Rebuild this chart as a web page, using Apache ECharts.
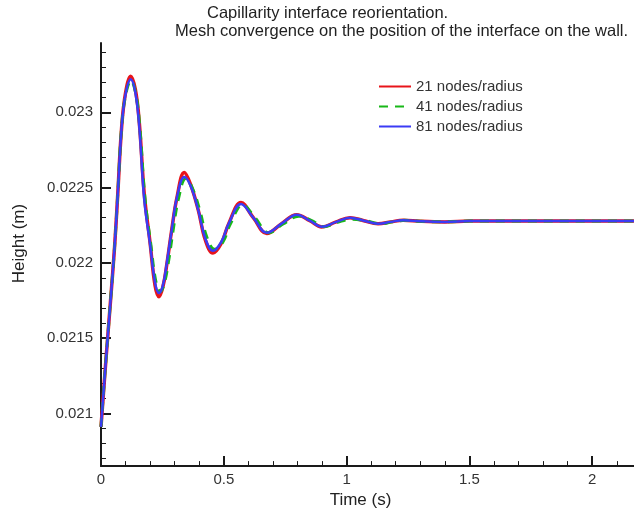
<!DOCTYPE html>
<html>
<head>
<meta charset="utf-8">
<script src="https://cdn.jsdelivr.net/npm/echarts@6/dist/echarts.min.js"></script>
<style>
html, body { margin: 0; padding: 0; background: #fff; }
#main { width: 634px; height: 514px; }
</style>
</head>
<body>
<div id="main"></div>
<script>
// time (s)
var tRef = [0, 0.02, 0.037, 0.055, 0.068, 0.084, 0.1, 0.121, 0.14, 0.156, 0.176, 0.2, 0.22, 0.236, 0.252, 0.268, 0.288, 0.31, 0.339, 0.365, 0.396, 0.425, 0.456, 0.49, 0.52, 0.57, 0.62, 0.675, 0.735, 0.797, 0.85, 0.899, 0.955, 1.014, 1.07, 1.128, 1.18, 1.23, 1.3, 1.4, 1.5, 1.7, 1.9, 2.17];
// 81 nodes/radius
var blue = [0.02091, 0.021354, 0.02171, 0.0221, 0.02245, 0.0229, 0.02312, 0.02322, 0.02313, 0.0229, 0.02242, 0.02212, 0.02187, 0.0218, 0.02185, 0.022, 0.02222, 0.02244, 0.02257, 0.02251, 0.02235, 0.02216, 0.02208, 0.02214, 0.02226, 0.02239, 0.0223, 0.0222, 0.02226, 0.02232, 0.02228, 0.02224, 0.02227, 0.0223, 0.02228, 0.02226, 0.022272, 0.022283, 0.022276, 0.022272, 0.022277, 0.022278, 0.022277, 0.022277];
// 21 nodes/radius
var red = [0.02091, 0.021354, 0.02171, 0.0221, 0.02245, 0.0229, 0.02313, 0.02324, 0.02315, 0.02293, 0.02246, 0.02213, 0.02185, 0.021775, 0.02184, 0.02199, 0.02222, 0.02244, 0.0226, 0.02252, 0.02235, 0.02215, 0.022065, 0.02213, 0.02226, 0.0224, 0.0223, 0.022195, 0.02226, 0.02232, 0.02228, 0.022238, 0.02227, 0.0223, 0.02228, 0.02226, 0.022272, 0.022283, 0.022276, 0.022272, 0.022277, 0.022278, 0.022277, 0.022277];
// 41 nodes/radius (a little behind after the first swing)
var tGreen = [0, 0.02, 0.037, 0.055, 0.068, 0.084, 0.101, 0.122, 0.142, 0.158, 0.179, 0.203, 0.224, 0.241, 0.257, 0.274, 0.294, 0.316, 0.345, 0.371, 0.402, 0.431, 0.462, 0.497, 0.527, 0.577, 0.627, 0.683, 0.743, 0.805, 0.858, 0.907, 0.963, 1.022, 1.078, 1.136, 1.188, 1.236, 1.3, 1.4, 1.5, 1.7, 1.9, 2.17];
var green = [0.02091, 0.021354, 0.02171, 0.0221, 0.02245, 0.0229, 0.02312, 0.02321, 0.02312, 0.0229, 0.02243, 0.02212, 0.02187, 0.02181, 0.02186, 0.022, 0.02222, 0.02243, 0.02256, 0.0225, 0.02235, 0.02217, 0.02209, 0.02214, 0.02226, 0.022385, 0.0223, 0.0222, 0.02226, 0.02231, 0.02228, 0.02224, 0.02227, 0.02229, 0.02228, 0.02226, 0.022272, 0.022282, 0.022276, 0.022272, 0.022277, 0.022278, 0.022277, 0.022277];

var xMajorTicks = [0, 0.5, 1, 1.5, 2];
var xMinorTicks = [0.1, 0.2, 0.3, 0.4, 0.6, 0.7, 0.8, 0.9, 1.1, 1.2, 1.3, 1.4, 1.6, 1.7, 1.8, 1.9, 2.1];
var yMajorTicks = [0.021, 0.0215, 0.022, 0.0225, 0.023];
var yMinorTicks = [0.0207, 0.0208, 0.0209, 0.0211, 0.0212, 0.0213, 0.0214, 0.0216, 0.0217, 0.0218, 0.0219,
    0.0221, 0.0222, 0.0223, 0.0224, 0.0226, 0.0227, 0.0228, 0.0229, 0.0231, 0.0232, 0.0233, 0.0234];

var font = "'Liberation Sans', Arial, sans-serif";
var axisColor = '#1a1a1a';

function pairs(t, v) {
    var out = [];
    for (var i = 0; i < t.length; i++) out.push([t[i], v[i]]);
    return out;
}

var myChart = echarts.init(document.getElementById('main'));

var option = {
    backgroundColor: '#fff',
    animation: false,
    title: [
        {
            text: 'Capillarity interface reorientation.',
            left: 207, top: 5, padding: 0,
            textStyle: { fontFamily: font, fontSize: 16.5, fontWeight: 'normal', color: '#222' }
        },
        {
            text: 'Mesh convergence on the position of the interface on the wall.',
            left: 175, top: 23, padding: 0,
            textStyle: { fontFamily: font, fontSize: 16.5, fontWeight: 'normal', color: '#222' }
        }
    ],
    legend: {
        orient: 'vertical',
        left: 378, top: 79, padding: 0,
        itemWidth: 32, itemHeight: 14, itemGap: 5,
        itemStyle: { opacity: 0 },
        textStyle: { fontFamily: font, fontSize: 15, color: '#333' },
        data: ['21 nodes/radius', '41 nodes/radius', '81 nodes/radius']
    },
    grid: { left: 101, right: 0, top: 43, bottom: 44 },
    xAxis: [
        {
            type: 'value', min: 0, max: 2.17,
            name: 'Time (s)', nameLocation: 'middle', nameGap: 19,
            nameTextStyle: { fontFamily: font, fontSize: 17, color: '#222', padding: [0, 14, 0, 0] },
            axisLine: { lineStyle: { color: axisColor, width: 2 } },
            axisTick: { inside: true, length: 10, lineStyle: { color: axisColor, width: 2 }, customValues: xMajorTicks },
            axisLabel: { customValues: xMajorTicks, margin: 6, fontFamily: font, fontSize: 15, color: '#333' },
            splitLine: { show: false }
        },
        {
            type: 'value', min: 0, max: 2.17, position: 'bottom',
            axisLine: { show: false },
            axisTick: { inside: true, length: 5, lineStyle: { color: axisColor, width: 1 }, customValues: xMinorTicks },
            axisLabel: { show: false },
            splitLine: { show: false }
        }
    ],
    yAxis: [
        {
            type: 'value', min: 0.02065, max: 0.02346,
            name: 'Height (m)', nameLocation: 'middle', nameGap: 73,
            nameTextStyle: { fontFamily: font, fontSize: 17, color: '#222', padding: [0, 0, 0, 22] },
            axisLine: { lineStyle: { color: axisColor, width: 2 } },
            axisTick: { inside: true, length: 10, lineStyle: { color: axisColor, width: 2 }, customValues: yMajorTicks },
            axisLabel: {
                customValues: yMajorTicks, margin: 8, fontFamily: font, fontSize: 15, color: '#333',
                formatter: function (v) { return String(+(+v).toFixed(5)); }
            },
            splitLine: { show: false }
        },
        {
            type: 'value', min: 0.02065, max: 0.02346, position: 'left', offset: 0,
            axisLine: { show: false },
            axisTick: { inside: true, length: 5, lineStyle: { color: axisColor, width: 1 }, customValues: yMinorTicks },
            axisLabel: { show: false },
            splitLine: { show: false }
        }
    ],
    series: [
        {
            name: '21 nodes/radius', type: 'line', smooth: 0.4, symbol: 'none',
            color: '#e8141a',
            lineStyle: { color: '#e8141a', width: 3.5 },
            data: pairs(tRef, red)
        },
        {
            name: '41 nodes/radius', type: 'line', smooth: 0.4, symbol: 'none',
            color: '#18b818',
            lineStyle: { color: '#18b818', width: 3, type: [9, 7] },
            data: pairs(tGreen, green)
        },
        {
            name: '81 nodes/radius', type: 'line', smooth: 0.4, symbol: 'none',
            color: '#3b3bf5',
            lineStyle: { color: '#3b3bf5', width: 2.5 },
            data: pairs(tRef, blue)
        }
    ]
};

myChart.setOption(option);
</script>
</body>
</html>
